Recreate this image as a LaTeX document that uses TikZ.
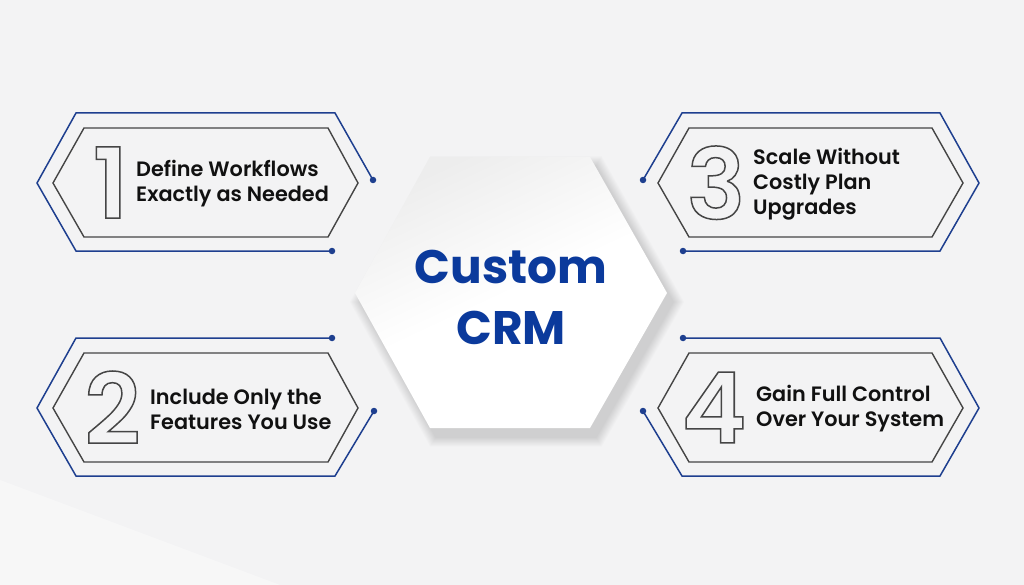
\documentclass[tikz,border=0pt]{standalone}
\usepackage{fontspec}
\setmainfont{Poppins}[BoldFont={Poppins SemiBold}]
\newfontfamily\hubfont{Poppins Bold}
\definecolor{bg}{HTML}{F3F3F4}
\definecolor{lblue}{HTML}{1E3F8F}
\definecolor{tblue}{HTML}{0B3A9C}
\definecolor{gline}{HTML}{454545}
\definecolor{txt}{HTML}{111111}
\newcommand\outlinedigit[1]{\special{pdf:literal direct 1 Tr 1.5 w}#1\special{pdf:literal direct 0 Tr}}
\tikzset{
  outerline/.style={draw=lblue, line width=1.5pt, line join=miter},
  innerline/.style={draw=gline, line width=1.4pt, line join=miter},
  dotend/.style={circle, fill=lblue, inner sep=0pt, minimum size=6.5pt},
  digit/.style={inner sep=0pt, text=gline, font=\fontsize{98}{98}\selectfont\bfseries, text depth=0pt},
  label/.style={anchor=west, align=left, inner sep=0pt, text=txt, font=\fontsize{20.8}{25}\selectfont\bfseries},
}
\begin{document}
\begin{tikzpicture}[x=1pt,y=-1pt]
\fill[bg] (0,0) rectangle (1024,585);
\useasboundingbox (0,0) rectangle (1024,585);
\fill[white, opacity=0.35] (0,585) -- (0,480) -- (280,585) -- cycle;

% center hexagon with soft shadow
\foreach \i in {1,...,12}{
  \begin{scope}[shift={(6,9)}, scale around={1+0.006*\i:(511,293)}]
    \fill[black, opacity=0.012] (430,157) -- (590,157) -- (667,293) -- (590,428) -- (430,428) -- (355,293) -- cycle;
  \end{scope}
}
\shade[top color=black!7, bottom color=white, middle color=white, shading angle=25]
  (430,157) -- (590,157) -- (667,293) -- (590,428) -- (430,428) -- (355,293) -- cycle;
\node (hub) [align=center, inner sep=0pt, text=tblue, font=\fontsize{47}{61}\hubfont] at (511,297) {Custom\\CRM};

% box 1
\node[dotend] (d1a) at (373,180) {};
\node[dotend] (d1b) at (332,251) {};
\draw[outerline] (d1a.center) -- (335,113) -- (76,113) -- (37,183) -- (76,251) -- (d1b.center);
\draw[innerline] (84,128) -- (328,128) -- (358,183) -- (328,237) -- (84,237) -- (53,183) -- cycle;
\node[digit] (n1) at (110.5,182.5) {\outlinedigit{1}};
\node[label] (t1) at (136,184) {Define Workflows\\Exactly as Needed};

% box 2
\node[dotend] (d2a) at (332,338) {};
\node[dotend] (d2b) at (374,411) {};
\draw[outerline] (d2a.center) -- (76,338) -- (37,408) -- (76,476) -- (335,476) -- (d2b.center);
\draw[innerline] (84,353) -- (328,353) -- (358,408) -- (328,462) -- (84,462) -- (53,408) -- cycle;
\node[digit] (n2) at (112.5,407.5) {\outlinedigit{2}};
\node[label] (t2) at (150,409) {Include Only the\\Features You Use};

% box 3
\node[dotend] (d3a) at (643,180) {};
\node[dotend] (d3b) at (683,251) {};
\draw[outerline] (d3a.center) -- (682,113) -- (940,113) -- (979,183) -- (940,251) -- (d3b.center);
\draw[innerline] (689,128) -- (932,128) -- (963,183) -- (932,237) -- (689,237) -- (658,183) -- cycle;
\node[digit] (n3) at (716,182.5) {\outlinedigit{3}};
\node[label] (t3) at (753,184) {Scale Without\\Costly Plan\\Upgrades};

% box 4
\node[dotend] (d4a) at (683,338) {};
\node[dotend] (d4b) at (643,411) {};
\draw[outerline] (d4a.center) -- (940,338) -- (979,408) -- (940,476) -- (682,476) -- (d4b.center);
\draw[innerline] (689,353) -- (932,353) -- (963,408) -- (932,462) -- (689,462) -- (658,408) -- cycle;
\node[digit] (n4) at (714,407.5) {\outlinedigit{4}};
\node[label] (t4) at (756,409) {Gain Full Control\\Over Your System};
\end{tikzpicture}
\end{document}
